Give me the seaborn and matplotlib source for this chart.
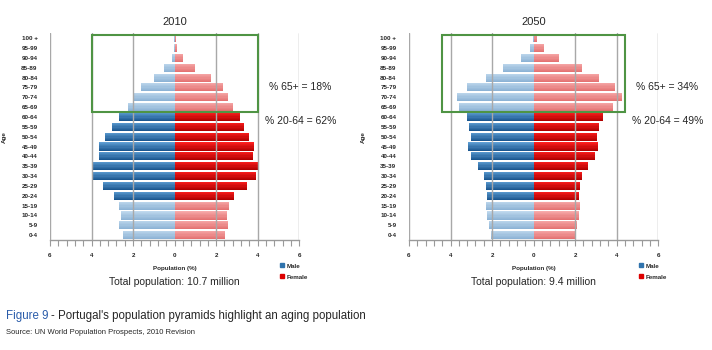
import numpy as np
import pandas as pd
import matplotlib
matplotlib.use("Agg")
import matplotlib.pyplot as plt
import seaborn as sns
from matplotlib.colors import to_rgb, to_hex
from matplotlib.patches import Rectangle
from matplotlib.lines import Line2D
from matplotlib.ticker import MultipleLocator, FuncFormatter

sns.set_theme(style="white")
plt.rcParams["font.family"] = ["Liberation Sans", "DejaVu Sans"]

# data (top row first)
ages = ["100 +", "95-99", "90-94", "85-89", "80-84", "75-79", "70-74", "65-69",
        "60-64", "55-59", "50-54", "45-49", "40-44", "35-39", "30-34", "25-29",
        "20-24", "15-19", "10-14", "5-9", "0-4"]
male_2010 = [0.02, 0.03, 0.13, 0.5, 1.0, 1.6, 2.0, 2.25, 2.7, 3.0, 3.35, 3.65,
             3.65, 3.95, 4.0, 3.45, 2.9, 2.7, 2.6, 2.7, 2.5]
female_2010 = [0.02, 0.05, 0.35, 0.93, 1.7, 2.3, 2.55, 2.75, 3.1, 3.3, 3.55, 3.8,
               3.75, 3.95, 3.9, 3.45, 2.8, 2.6, 2.5, 2.55, 2.4]
male_2050 = [0.03, 0.16, 0.6, 1.45, 2.3, 3.2, 3.7, 3.6, 3.2, 3.1, 3.0, 3.15,
             3.0, 2.7, 2.4, 2.3, 2.25, 2.3, 2.25, 2.15, 2.05]
female_2050 = [0.1, 0.47, 1.2, 2.3, 3.1, 3.9, 4.2, 3.8, 3.3, 3.1, 3.0, 3.05,
               2.9, 2.6, 2.3, 2.2, 2.15, 2.2, 2.15, 2.05, 2.0]
years = ["2010", "2050"]
totals = ["Total population: 10.7 million", "Total population: 9.4 million"]
share_65 = ["% 65+ = 18%", "% 65+ = 34%"]
share_2064 = ["% 20-64 = 62%", "% 20-64 = 49%"]
box_half = [4.0, 4.4]

# working age 20-64 gets the dark colours
working = [a in ages[8:17] for a in ages]
blue_dark, blue_light = "#2f73ad", "#9fc2e0"
red_dark, red_light = "#dc0000", "#ef8484"
male_cols = {a: (blue_dark if w else blue_light) for a, w in zip(ages, working)}
female_cols = {a: (red_dark if w else red_light) for a, w in zip(ages, working)}
# top / bottom shades for the excel-like gradient
shades = {blue_dark: ("#5f9fd4", "#1b5790"), blue_light: ("#c0d9ee", "#8db3d5"),
          red_dark: ("#ff2020", "#b00000"), red_light: ("#f7abab", "#e47272")}


def shade_bars(ax):
    for p in list(ax.patches):
        if p.get_width() == 0:
            continue
        key = to_hex(p.get_facecolor())
        top, bot = [np.array(to_rgb(c)) for c in shades.get(key, (key, key))]
        t = np.linspace(0, 1, 8)[:, None]
        grad = (top * (1 - t) + bot * t)[:, None, :]
        x0, y0 = p.get_x(), p.get_y()
        x1, y1 = x0 + p.get_width(), y0 + p.get_height()
        im = ax.imshow(grad, extent=(min(x0, x1), max(x0, x1), max(y0, y1), min(y0, y1)),
                       origin="upper", aspect="auto", zorder=2.5, interpolation="nearest")
        im.set_clip_path(p)


fig = plt.figure(figsize=(7.12, 3.5), dpi=100)
lefts = [50 / 712, 409 / 712]
series = [(male_2010, female_2010), (male_2050, female_2050)]

for i, (male, female) in enumerate(series):
    ax = fig.add_axes([lefts[i], 0.314, 0.350, 0.591])
    df = pd.DataFrame({"age": ages, "male": -np.array(male), "female": female})
    sns.barplot(data=df, x="male", y="age", hue="age", palette=male_cols,
                order=ages, width=0.82, saturation=1, legend=False, ax=ax, zorder=2)
    sns.barplot(data=df, x="female", y="age", hue="age", palette=female_cols,
                order=ages, width=0.82, saturation=1, legend=False, ax=ax, zorder=2)
    shade_bars(ax)
    ax.set_xlim(-6, 6)
    ax.set_ylim(20.5, -0.5)
    for g in [-6, -4, -2, 2, 4, 6]:
        ax.axvline(g, color="#a8a8a8", lw=1, zorder=3)
    for s in ["top", "right", "left"]:
        ax.spines[s].set_visible(False)
    ax.spines["bottom"].set_color("#9a9a9a")
    ax.spines["bottom"].set_linewidth(1)
    ax.xaxis.set_major_locator(MultipleLocator(2))
    ax.xaxis.set_minor_locator(MultipleLocator(0.4))
    ax.xaxis.set_major_formatter(FuncFormatter(lambda v, p: f"{abs(v):.0f}"))
    ax.tick_params(axis="x", which="both", bottom=True, length=4, width=0.8,
                   color="#9a9a9a", labelsize=4.5, pad=5)
    ax.tick_params(axis="y", length=0, labelsize=4.5, pad=9)
    for lab in ax.get_xticklabels() + ax.get_yticklabels():
        lab.set_fontweight("bold")
    ax.set_xlabel("Population (%)", fontsize=4.5, fontweight="bold", labelpad=6)
    ax.set_ylabel("Age", fontsize=4.5, fontweight="bold", labelpad=10)
    ax.set_title(years[i], fontsize=8, pad=6)

    h = box_half[i]
    ax.add_patch(Rectangle((-h, -0.35), 2 * h, 7.85, fill=False,
                           edgecolor="#4f9444", lw=1.5, zorder=4, clip_on=False))
    ax.text(h + 0.55, 5, share_65[i], fontsize=7.5, va="center", ha="left", zorder=5)
    ax.text(h + 0.35, 8.4, share_2064[i], fontsize=7.5, va="center", ha="left", zorder=5)

    handles = [Line2D([], [], marker="s", ls="", color=blue_dark, markersize=3),
               Line2D([], [], marker="s", ls="", color=red_dark, markersize=3)]
    leg = ax.legend(handles, ["Male", "Female"], loc="upper left",
                    bbox_to_anchor=(0.895, -0.085), frameon=False, fontsize=4.5,
                    handletextpad=0.2, labelspacing=0.9, handlelength=1)
    for t in leg.get_texts():
        t.set_fontweight("bold")

    fig.text(lefts[i] + 0.175, 1 - 282 / 350, totals[i], fontsize=7.5,
             ha="center", va="center")

fig.text(6 / 712, 1 - 316 / 350, "Figure 9", color="#2a5caa", fontsize=8.3, va="center")
fig.text(51 / 712, 1 - 316 / 350, "- Portugal's population pyramids highlight an aging population",
         fontsize=8.3, va="center")
fig.text(6 / 712, 1 - 332 / 350, "Source: UN World Population Prospects, 2010 Revision",
         fontsize=5.5, va="center")

fig.savefig("out.png", dpi=100)
